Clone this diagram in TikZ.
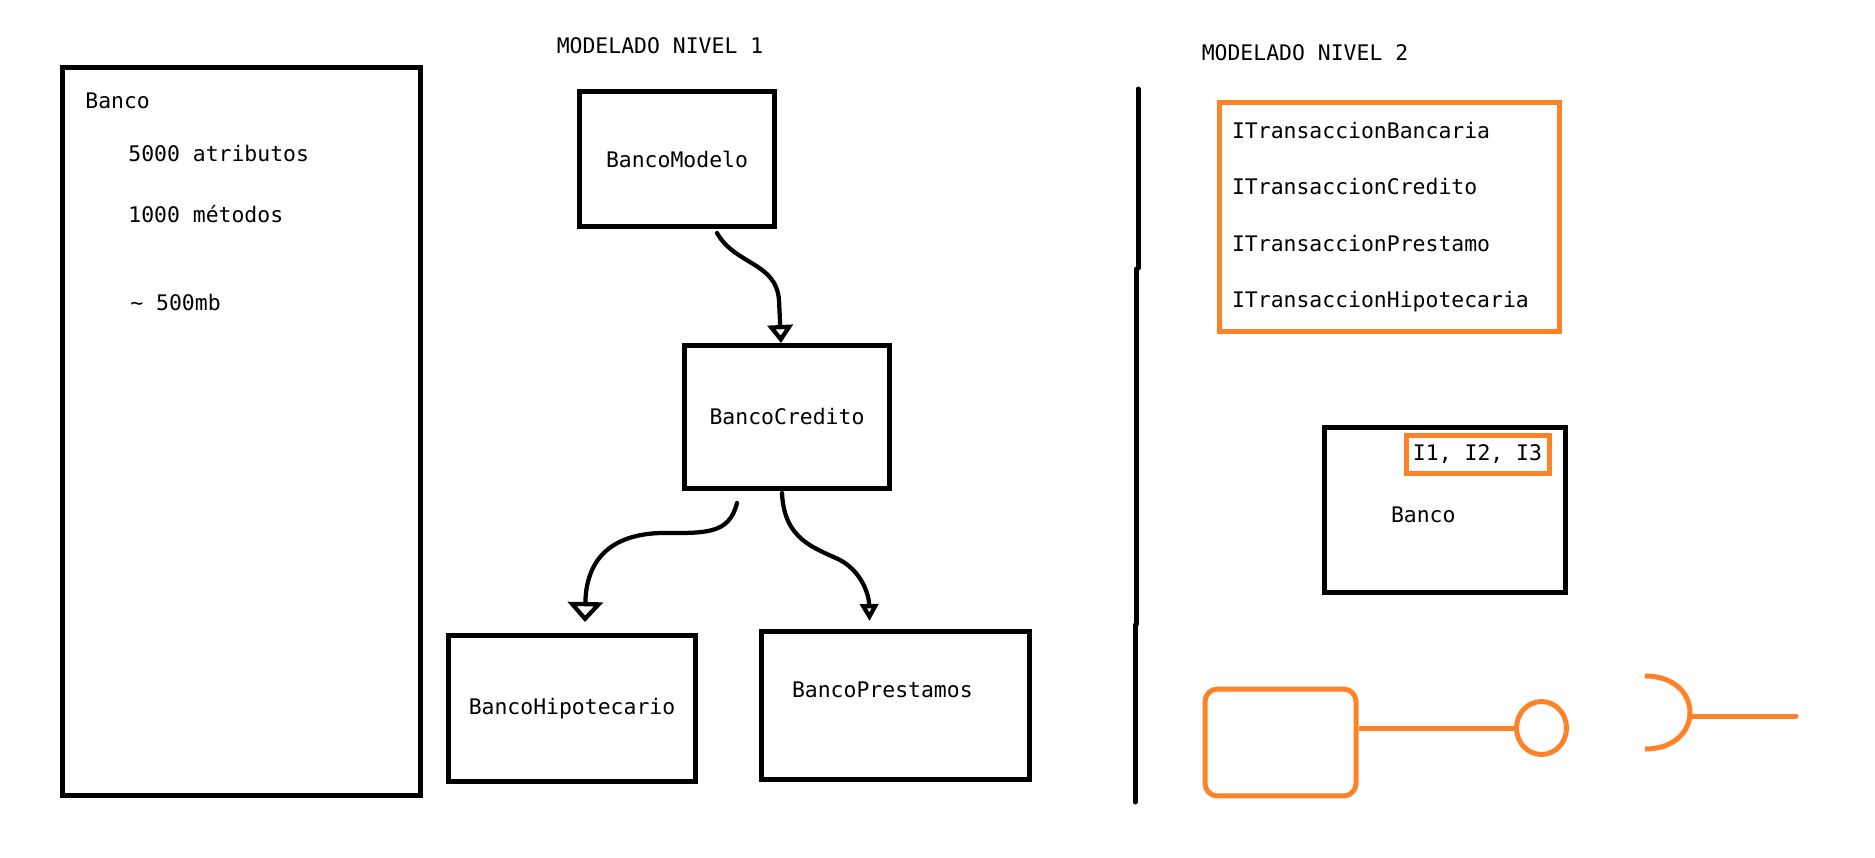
\documentclass[tikz,border=0pt]{standalone}
\usepackage{fontspec}
\usepackage{xcolor}
\usepackage{tikz}
\usetikzlibrary{positioning,arrows.meta,calc,shapes.geometric}
\setmonofont{DejaVu Sans Mono}
\definecolor{IfaceOrange}{RGB}{255,130,40}

\begin{document}
\begin{tikzpicture}[
x=0.02cm, y=-0.02cm,
node distance=0.5cm,
font=\ttfamily\fontsize{12.2}{14.6}\selectfont,
box/.style={draw, line width=0.1cm, inner sep=0pt, align=center},
obox/.style={draw=IfaceOrange, line width=0.1cm, inner sep=0pt},
oline/.style={IfaceOrange, line width=0.1cm},
txt/.style={inner sep=0pt, anchor=base west},
head/.style={inner sep=0pt},
divider/.style={line width=0.1cm, line cap=round},
arrow/.style={-{Triangle[open, length=0.36cm, width=0.5cm]}, line width=0.085cm, line cap=round, line join=round}
]
\useasboundingbox (0,0) rectangle (1875,858);

% clase unica
\node[box, minimum width=7.18cm, minimum height=14.58cm] (banco) at (241.5,431.5) {};
\node[txt] (banconame) at (85,109) {Banco};
\node[txt] (attrs) at (128,162) {5000 atributos};
\node[txt] (methods) at (128,222) {1000 métodos};
\node[txt] (size) at (130,310) {\char`\~{} 500mb};

% nivel 1
\node[head] (nivelI) at (660,46) {MODELADO NIVEL 1};
\node[box, minimum width=3.9cm, minimum height=2.7cm] (modelo) at (677,159) {BancoModelo};
\node[box, minimum width=4.1cm, minimum height=2.86cm] (credito) at (787,417) {BancoCredito};
\node[box, minimum width=4.94cm, minimum height=2.92cm] (hipo) at (572,708.5) {BancoHipotecario};
\node[box, minimum width=5.36cm, minimum height=2.96cm, text width=4.14cm, align=left,
  text height=0.3cm, text depth=0.62cm] (prestamos) at (895.5,705.5) {BancoPrestamos};

\draw[arrow] ($(modelo.south)+(40,4)$) .. controls (735,265) and (776,262) .. (779,300)
  -- ($(credito.north)+(-6,0)$);
\draw[arrow, -{Triangle[open, length=0.4cm, width=0.7cm]}] ($(credito.south)+(-50,12)$)
  .. controls (729,535) and (705,533) .. (660,533)
  .. controls (605,535) and (586,565) .. ($(hipo.north)+(13,-11)$);
\draw[arrow, -{Triangle[open, length=0.34cm, width=0.36cm]}] ($(credito.south)+(-5,2)$)
  .. controls (784,540) and (815,548) .. (840,560)
  .. controls (862,572) and (869,595) .. ($(prestamos.north)+(-26,-8)$);

% separador
\coordinate (divA) at (1138,89);
\coordinate (divB) at (1138,268);
\coordinate (divC) at (1136.5,269);
\coordinate (divD) at (1136.5,624);
\coordinate (divE) at (1135,625);
\coordinate (divF) at (1135,802);
\draw[divider] (divA) -- (divB);
\draw[divider] (divC) -- (divD);
\draw[divider] (divE) -- (divF);

% nivel 2
\node[head] (nivelII) at (1305,53) {MODELADO NIVEL 2};
\node[obox, minimum width=6.8cm, minimum height=4.58cm, text width=6.3cm, align=left,
  font=\ttfamily\fontsize{12.2}{32}\selectfont] (ifaces) at (1389.5,217)
  {ITransaccionBancaria\\ITransaccionCredito\\ITransaccionPrestamo\\ITransaccionHipotecaria};
\node[box, minimum width=4.82cm, minimum height=3.32cm, text width=2.14cm, align=left,
  text height=0.51cm, text depth=0cm] (bancoII) at (1444.5,510) {Banco};
\node[obox, minimum width=2.86cm, minimum height=0.76cm] (impl) at (1477.5,454.5) {I1, I2, I3};

% componente e interfaz
\node[obox, rounded corners=0.25cm, minimum width=3.02cm, minimum height=2.14cm] (comp) at (1280.5,742.5) {};
\node[draw=IfaceOrange, line width=0.1cm, ellipse, inner sep=0pt, minimum width=1.0cm, minimum height=1.06cm] (lollipop) at (1541.5,728) {};
\draw[oline] (comp.east |- lollipop.west) -- (lollipop.west);

\coordinate (sockTop) at (1645,676);
\coordinate (sockBot) at (1645,749);
\coordinate (sockMid) at (1690,716);
\coordinate (sockEnd) at (1796,716);
\draw[oline] (sockTop) .. controls +(60,0) and +(60,0) .. (sockBot);
\draw[oline, line cap=round] (sockMid) -- (sockEnd);
\end{tikzpicture}
\end{document}
